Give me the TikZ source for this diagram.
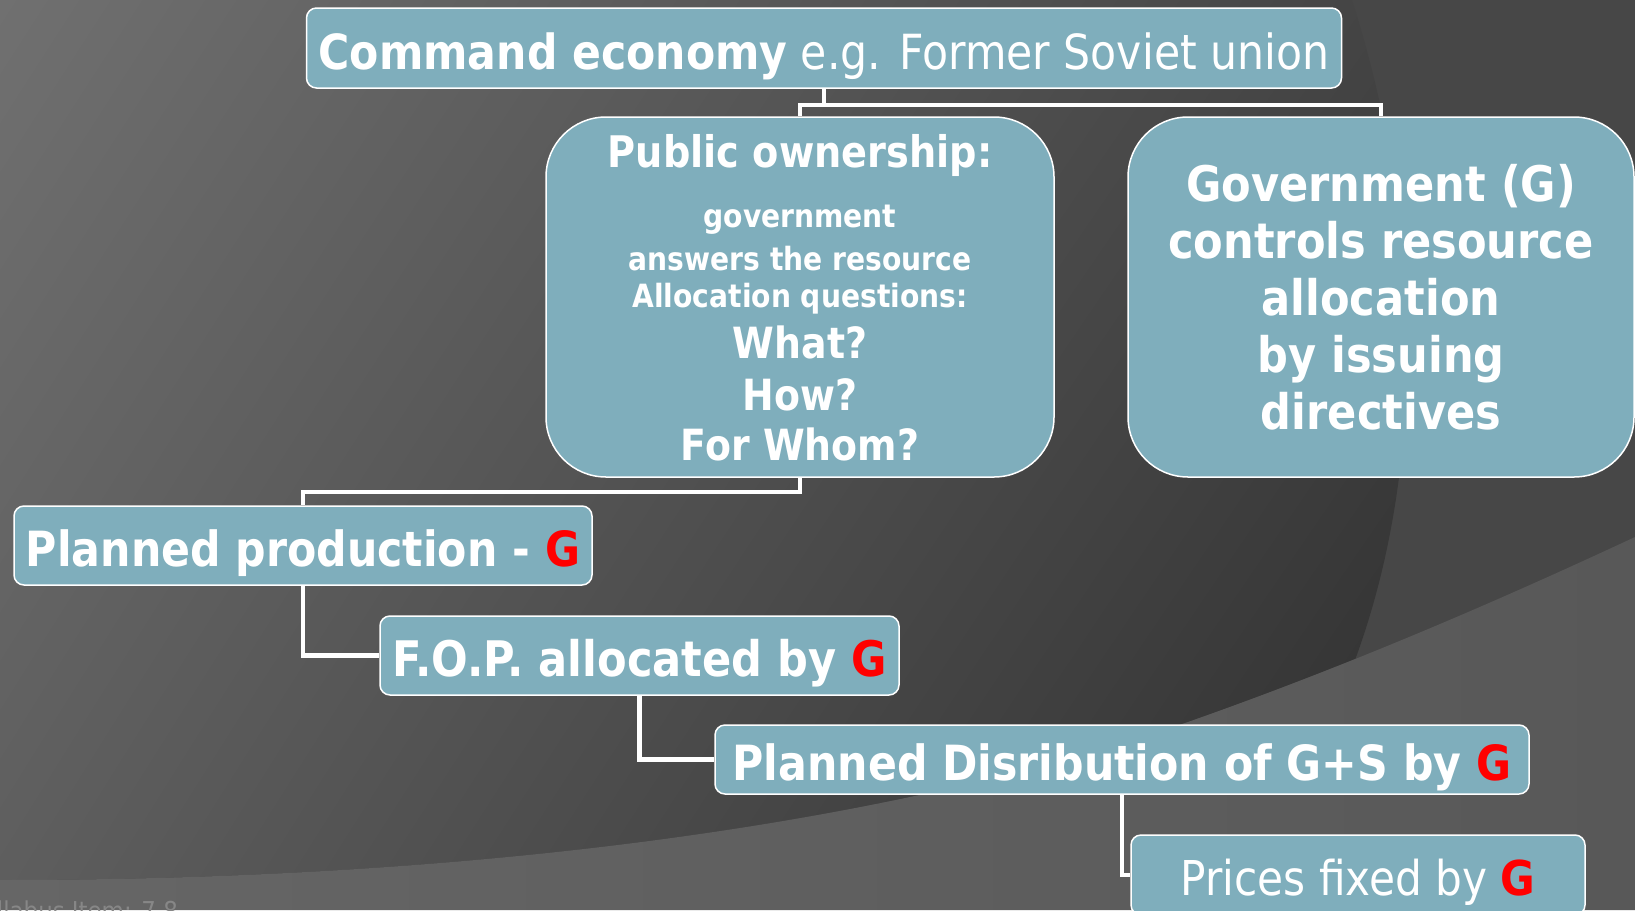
\documentclass[tikz,border=0pt]{standalone}
\usepackage{fontspec}
\setmainfont{DejaVu Sans}[FakeStretch=0.88]
\usetikzlibrary{backgrounds,shadings}

\definecolor{boxblue}{RGB}{127,174,188}
\definecolor{gred}{RGB}{255,0,0}
\definecolor{bgmid}{RGB}{71,71,71}
\definecolor{bgband}{RGB}{102,102,102}
\definecolor{bgwedge}{RGB}{88,88,88}
\definecolor{bgtl}{RGB}{112,112,112}
\definecolor{bgtr}{RGB}{60,60,60}
\definecolor{bgbl}{RGB}{94,94,94}
\definecolor{bgbr}{RGB}{40,40,40}
\definecolor{itemgray}{RGB}{135,135,135}

\newcommand{\redG}{\textcolor{gred}{\bfseries G}}
% fixed baseline distance, however tall a line gets
\newcommand{\fixedlines}{\lineskiplimit=-200pt\relax}

\tikzset{
  box/.style={draw=white, line width=1.5pt, fill=boxblue, text=white,
    rounded corners=10pt, inner sep=0pt, text depth=0pt},
  bigbox/.style={box, rounded corners=60pt, align=center},
  link/.style={draw=white, line width=4.5pt},
}

\begin{document}
\begin{tikzpicture}[x=1pt,y=-1pt]
\useasboundingbox (0,0) rectangle (1635,910);
\clip (0,0) rectangle (1635,910);

% boxes
\node[box, font=\fontsize{48.4}{58}\selectfont, text height=42pt,
  minimum width=1035pt, minimum height=80pt] (econ) at (824,48)
  {{\bfseries Command economy} e.g. Former Soviet union};
\node[bigbox, font={\fontsize{32}{37}\selectfont\bfseries\fixedlines},
  minimum width=508pt, minimum height=360pt] (pub) at (800,297)
  {{\fontsize{43.5}{48}\selectfont Public ownership:}\\[23pt]
   government\\[6pt]
   answers the resource\\
   Allocation questions:\\[14pt]
   {\fontsize{43}{50}\selectfont What?}\\[15pt]
   {\fontsize{43}{50}\selectfont How?}\\[13pt]
   {\fontsize{43}{50}\selectfont For Whom?}};
\node[bigbox, font={\fontsize{49}{57}\selectfont\bfseries\fixedlines},
  minimum width=506pt, minimum height=360pt] (gov) at (1381,297)
  {Government (G)\\ controls resource\\ allocation\\ by issuing\\ directives};
\node[box, font=\fontsize{48.5}{57}\selectfont\bfseries, text height=41pt,
  minimum width=578pt, minimum height=79pt] (plan) at (303,545.5)
  {Planned production - \redG};
\node[box, font=\fontsize{49}{57}\selectfont\bfseries, text height=41pt,
  minimum width=519pt, minimum height=79pt] (fop) at (639.5,655.5)
  {F.O.P. allocated by \redG};
\node[box, font=\fontsize{48.5}{57}\selectfont\bfseries, text height=41pt,
  minimum width=814pt, minimum height=69pt] (dist) at (1122,759.5)
  {Planned Disribution of G+S by \redG};
\node[box, font=\fontsize{48}{57}\selectfont, text height=40pt,
  minimum width=454pt, minimum height=80pt] (price) at (1358,875)
  {Prices fixed by \redG};

% footer
\node[anchor=base east, inner sep=0pt, text=itemgray,
  font=\fontsize{26}{30}\selectfont] (item) at (178,920) {Syllabus Item: 7.8};

\begin{scope}[on background layer]
  % backdrop
  \fill[bgmid] (0,0) rectangle (1635,910);
  \begin{scope}
    \clip (0,0) -- (1352,0) .. controls (1425,230) and (1425,470) .. (1355,660)
      .. controls (1320,740) and (1290,790) .. (1250,840) -- (1210,910) -- (0,910) -- cycle;
    \shade[upper left=bgtl, upper right=bgtr, lower left=bgbl, lower right=bgbr]
      (0,0) -- (1635,0) -- (1635,537) .. controls (1500,600) and (1350,665) .. (1188,722)
      .. controls (900,820) and (500,880) .. (0,880) -- cycle;
  \end{scope}
  \shade[left color=bgband, right color=bgwedge]
    (0,880) .. controls (500,880) and (900,820) .. (1188,722)
    .. controls (1350,665) and (1500,600) .. (1635,537) -- (1635,910) -- (0,910) -- cycle;

  % connectors
  \draw[link] (econ.south) -- ++(0,16) -| (pub.north);
  \draw[link] (econ.south) -- ++(0,16) -| (gov.north);
  \draw[link] (pub.south) -- ++(0,14) -| (plan.north);
  \draw[link] (plan.south) |- (fop.west);
  \draw[link] (fop.south) |- (dist.west);
  \draw[link] (dist.south) |- (price.west);
\end{scope}
\end{tikzpicture}
\end{document}
